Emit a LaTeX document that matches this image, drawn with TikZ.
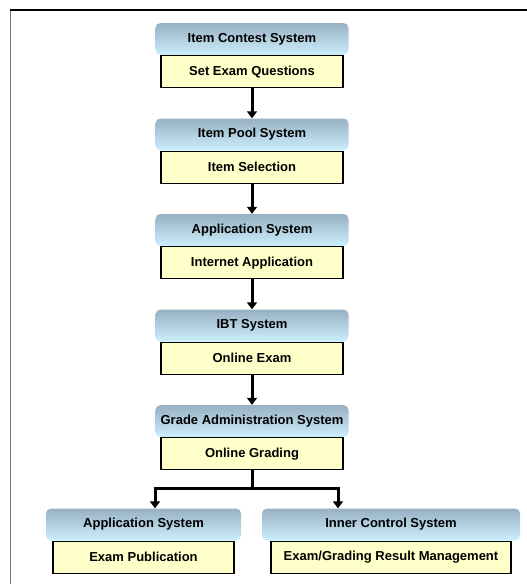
\documentclass[tikz,border=0pt]{standalone}
\usepackage{fontspec}
\setmainfont{Liberation Sans}
\usepackage{tikz}
\usetikzlibrary{positioning, arrows.meta, calc, shadings, fadings}
\definecolor{myyellow}{HTML}{FFFFCA}
\definecolor{hdtop}{HTML}{97B0C2}
\definecolor{hdbot}{HTML}{CDEFFD}
\pgfdeclarehorizontalshading{hdends}{100bp}{color(0bp)=(black!55); color(9bp)=(white); color(91bp)=(white); color(100bp)=(black!55)}
\tikzset{
	headbox/.style={rounded corners=5pt, minimum height=32, inner sep=0pt,
			font=\fontsize{13}{15}\selectfont\bfseries,
			top color=hdtop, bottom color=hdbot, shading angle=0,
			postaction={shade, shading=hdends, shading angle=0, blend mode=multiply}}
}
\tikzset{
	bodybox/.style={draw=black, line width=1.2pt, fill=myyellow, minimum height=32, inner sep=0pt,
			font=\fontsize{13}{15}\selectfont\bfseries}
}
\tikzset{
	flowarrow/.style={line width=3pt, -{Triangle[length=7pt,width=10pt]}}
}

\begin{document}
\begin{tikzpicture}[x=1pt, y=-1pt]

	\useasboundingbox (0,0) rectangle (527,584);
	\draw[line width=1.5pt, black!55] (10.5,584) -- (10.5,10);
	\draw[line width=1.2pt] (10,10) -- (527,10);

	% column of systems
	\node[headbox, minimum width=193] (hd1) at (252,39) {Item Contest System};
	\node[bodybox, minimum width=182, below=0pt of hd1] (bd1) {Set Exam Questions};

	\node[headbox, minimum width=193] (hd2) at (252,134.5) {Item Pool System};
	\node[bodybox, minimum width=182, below=0pt of hd2] (bd2) {Item Selection};

	\node[headbox, minimum width=193] (hd3) at (252,230) {Application System};
	\node[bodybox, minimum width=182, below=0pt of hd3] (bd3) {Internet Application};

	\node[headbox, minimum width=193] (hd4) at (252,325.5) {IBT System};
	\node[bodybox, minimum width=182, below=0pt of hd4] (bd4) {Online Exam};

	\node[headbox, minimum width=193] (hd5) at (252,421) {Grade Administration System};
	\node[bodybox, minimum width=182, below=0pt of hd5] (bd5) {Online Grading};

	% bottom row
	\node[headbox, minimum width=195] (hdL) at (143.5,524.5) {Application System};
	\node[bodybox, minimum width=181, below=0pt of hdL] (bdL) {Exam Publication};

	\node[headbox, minimum width=258] (hdR) at (391,524.5) {Inner Control System};
	\node[bodybox, minimum width=240, below=0pt of hdR] (bdR) {Exam/Grading Result Management};

	\foreach \a/\b in {1/2, 2/3, 3/4, 4/5}
		\draw[flowarrow] (bd\a.south) -- (hd\b.north);

	\coordinate (jM) at (252,488);
	\coordinate (jL) at (155,488);
	\coordinate (jR) at (338,488);
	\draw[line width=3pt] (bd5.south) -- (jM);
	\draw[line width=3pt, line cap=rect] (jL) -- (jR);
	\draw[flowarrow] (jL) -- (jL |- hdL.north);
	\draw[flowarrow] (jR) -- (jR |- hdR.north);

\end{tikzpicture}
\end{document}
